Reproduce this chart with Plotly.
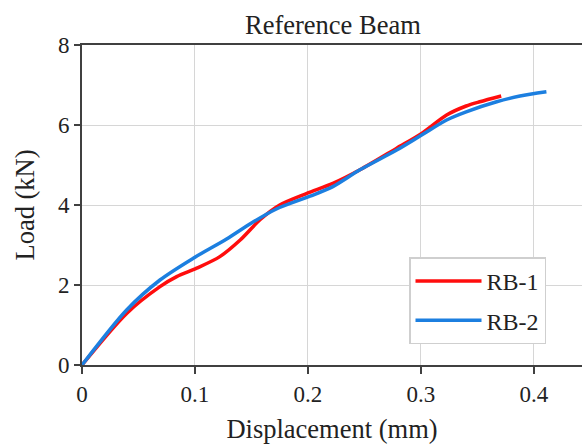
import plotly.graph_objects as go

# Data
rb1_x = [0, 0.0395, 0.069, 0.0838, 0.1015, 0.122, 0.14, 0.1575, 0.175, 0.199,
         0.222, 0.246, 0.2785, 0.3006, 0.3227, 0.34, 0.352, 0.371]
rb1_y = [0, 1.29, 1.96, 2.21, 2.42, 2.71, 3.125, 3.63, 4.0, 4.29,
         4.54, 4.88, 5.42, 5.79, 6.25, 6.475, 6.58, 6.725]

rb2_x = [0, 0.0395, 0.069, 0.0985, 0.128, 0.15, 0.172, 0.2018, 0.222, 0.246,
         0.2785, 0.3006, 0.3227, 0.34, 0.367, 0.3876, 0.411]
rb2_y = [0, 1.375, 2.125, 2.67, 3.15, 3.55, 3.9, 4.22, 4.46, 4.88,
         5.375, 5.75, 6.125, 6.33, 6.58, 6.725, 6.83]

x_ticks = [0, 0.1, 0.2, 0.3, 0.4]
x_tick_labels = ["0", "0.1", "0.2", "0.3", "0.4"]
y_ticks = [0, 2, 4, 6, 8]

FONT = "Liberation Serif, Times New Roman, serif"
TXT = "#222222"

fig = go.Figure()
fig.add_trace(go.Scatter(x=rb1_x, y=rb1_y, mode="lines", name="RB-1", legendgroup="g1",
                         line=dict(color="#ff0d0d", width=3.5, shape="spline", smoothing=0.8)))
fig.add_trace(go.Scatter(x=rb2_x, y=rb2_y, mode="lines", name="RB-2", legendgroup="g2",
                         line=dict(color="#1c7fe0", width=3.5, shape="spline", smoothing=0.8)))

fig.update_layout(
    width=582, height=445,
    margin=dict(l=82, r=0, t=45, b=80),
    paper_bgcolor="white", plot_bgcolor="white",
    font=dict(family=FONT, color=TXT, size=23),
    title=dict(text="Reference Beam", x=0.572, xanchor="center", y=0.945, yanchor="middle",
               font=dict(family=FONT, size=26.5, color=TXT)),
    xaxis=dict(range=[0, 0.4425], tickvals=x_ticks, ticktext=x_tick_labels,
               showgrid=True, gridcolor="#d6d6d6", gridwidth=1.2,
               showline=True, linecolor="#404040", linewidth=2, mirror=True,
               ticks="outside", ticklen=7, tickwidth=1.5, tickcolor="#404040",
               zeroline=False,
               tickfont=dict(family=FONT, size=23, color=TXT),
               title=dict(text="Displacement (mm)", font=dict(family=FONT, size=26.5, color=TXT), standoff=14)),
    yaxis=dict(range=[0, 8], tickvals=y_ticks,
               showgrid=True, gridcolor="#d6d6d6", gridwidth=1.2,
               showline=True, linecolor="#404040", linewidth=2, mirror=False,
               ticks="outside", ticklen=6, tickwidth=1.5, tickcolor="#404040",
               zeroline=False,
               tickfont=dict(family=FONT, size=23, color=TXT),
               title=dict(text="Load (kN)", font=dict(family=FONT, size=26.5, color=TXT), standoff=16)),
    legend=dict(x=0.654, y=0.336, xanchor="left", yanchor="top",
                bgcolor="white", bordercolor="#cfcfcf", borderwidth=1.5,
                font=dict(family=FONT, size=24, color=TXT),
                itemwidth=66, traceorder="grouped", tracegroupgap=5),
    showlegend=True,
)

fig.write_html("out.html")
